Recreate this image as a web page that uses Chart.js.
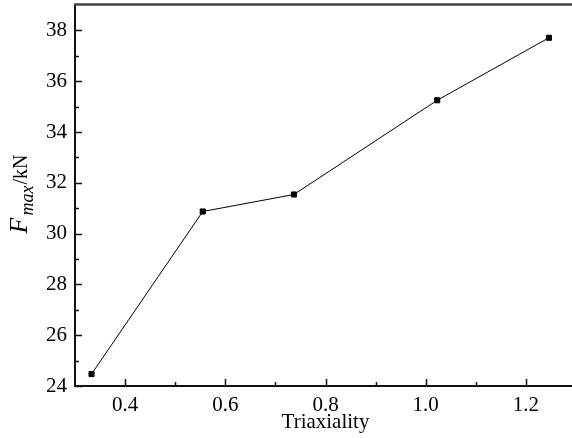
<!DOCTYPE html>
<html>
<head>
<meta charset="utf-8">
<script src="https://cdn.jsdelivr.net/npm/chart.js@4/dist/chart.umd.min.js"></script>
<style>
  html, body { margin: 0; padding: 0; background: #fff; overflow: hidden; }
  #wrap { width: 600px; height: 438px; }
</style>
</head>
<body>
<div id="wrap"><canvas id="c" width="600" height="438"></canvas></div>
<script>
// ---- data ----
const triaxiality = [0.333, 0.555, 0.737, 1.023, 1.246];
const fmaxKN      = [24.47, 30.87, 31.54, 35.25, 37.71];

// ---- axis ticks ----
const xMajorTicks = [0.4, 0.6, 0.8, 1.0, 1.2];
const xMinorTicks = [0.5, 0.7, 0.9, 1.1];
const yMajorTicks = [24, 26, 28, 30, 32, 34, 36, 38];
const yMinorTicks = [25, 27, 29, 31, 33, 35, 37];

const xTitle = 'Triaxiality';
const yTitleParts = ['F', 'max', '/kN'];

const FONT = '"Liberation Serif", "Times New Roman", serif';

const tickPlugin = {
  id: 'tickPlugin',
  afterDraw(chart) {
    const ctx = chart.ctx;
    const xs = chart.scales.x, ys = chart.scales.y;
    const a = chart.chartArea;
    ctx.save();
    // top frame line
    ctx.strokeStyle = '#444';
    ctx.lineWidth = 2.5;
    ctx.beginPath();
    ctx.moveTo(a.left - 1, a.top - 0.5);
    ctx.lineTo(a.right + 2, a.top - 0.5);
    ctx.stroke();
    // inward ticks
    ctx.strokeStyle = '#111';
    ctx.lineWidth = 1.5;
    const drawX = (vals, len) => vals.forEach(v => {
      const px = Math.round(xs.getPixelForValue(v)) + 0.5;
      ctx.beginPath(); ctx.moveTo(px, a.bottom); ctx.lineTo(px, a.bottom - len); ctx.stroke();
    });
    const drawY = (vals, len) => vals.forEach(v => {
      const py = Math.round(ys.getPixelForValue(v)) + 0.5;
      ctx.beginPath(); ctx.moveTo(a.left, py); ctx.lineTo(a.left + len, py); ctx.stroke();
    });
    drawX(xMajorTicks, 7); drawX(xMinorTicks, 4);
    drawY(yMajorTicks, 7); drawY(yMinorTicks, 4);

    // y title (rotated, mixed styles)
    ctx.fillStyle = '#000';
    ctx.translate(27, 194);
    ctx.rotate(-Math.PI / 2);
    ctx.textBaseline = 'alphabetic';
    const fF = 'italic 26px ' + FONT;
    const fSub = 'italic 18px ' + FONT;
    const fUnit = '20px ' + FONT;
    ctx.font = fF; const wF = ctx.measureText(yTitleParts[0]).width;
    ctx.font = fSub; const wS = ctx.measureText(yTitleParts[1]).width;
    ctx.font = fUnit; const wU = ctx.measureText(yTitleParts[2]).width;
    let x0 = -(wF + wS + wU + 3) / 2;
    ctx.font = fF; ctx.fillText(yTitleParts[0], x0, 0); x0 += wF + 2;
    ctx.font = fSub; ctx.fillText(yTitleParts[1], x0, 6); x0 += wS + 1;
    ctx.font = fUnit; ctx.fillText(yTitleParts[2], x0, 0);
    ctx.restore();
  }
};

new Chart(document.getElementById('c'), {
  type: 'line',
  data: {
    datasets: [{
      data: triaxiality.map((x, i) => ({ x: x, y: fmaxKN[i] })),
      borderColor: '#000',
      borderWidth: 1,
      backgroundColor: '#000',
      pointStyle: 'rect',
      pointRadius: 3.6,
      pointBorderWidth: 1,
      pointBorderColor: '#000',
      pointBackgroundColor: '#000',
      tension: 0,
      fill: false
    }]
  },
  options: {
    responsive: false,
    animation: false,
    devicePixelRatio: 1,
    layout: { padding: { top: 5, right: 24, bottom: 0, left: 0 } },
    plugins: { legend: { display: false }, tooltip: { enabled: false } },
    scales: {
      x: {
        type: 'linear',
        min: 0.3, max: 1.3,
        afterBuildTicks(s) { s.ticks = xMajorTicks.map(v => ({ value: v })); },
        afterFit(s) { s.height = 52; s.paddingLeft = 0; s.paddingRight = 0; },
        grid: { display: true, drawOnChartArea: false, drawTicks: false },
        border: { display: true, color: '#111', width: 2 },
        ticks: {
          padding: 7, color: '#000', maxRotation: 0, autoSkip: false,
          font: { family: FONT, size: 21 },
          callback: v => Number(v).toFixed(1)
        },
        title: {
          display: true, text: xTitle, color: '#000',
          font: { family: FONT, size: 21 },
          padding: { top: 0, bottom: 3 }
        }
      },
      y: {
        type: 'linear',
        min: 24, max: 39,
        afterBuildTicks(s) { s.ticks = yMajorTicks.map(v => ({ value: v })); },
        afterFit(s) { s.width = 75; s.paddingTop = 0; s.paddingBottom = 0; },
        grid: { display: true, drawOnChartArea: false, drawTicks: false },
        border: { display: true, color: '#111', width: 2 },
        ticks: {
          padding: 8, color: '#000', autoSkip: false,
          font: { family: FONT, size: 21 },
          callback: v => String(v)
        }
      }
    }
  },
  plugins: [tickPlugin]
});
</script>
</body>
</html>
